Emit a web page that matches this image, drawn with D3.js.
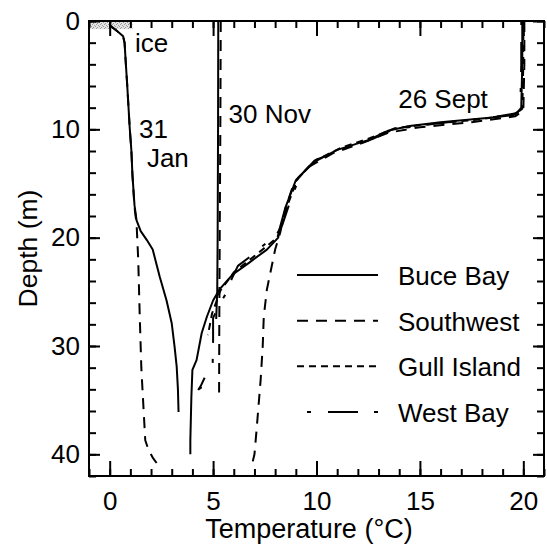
<!DOCTYPE html>
<html>
<head>
<meta charset="utf-8">
<script src="https://cdn.jsdelivr.net/npm/d3@7"></script>
<style>
  body { margin: 0; background: #fff; }
  svg text { font-family: "Liberation Sans", Arial, Helvetica, sans-serif; fill: #000; }
</style>
</head>
<body>
<svg id="chart" width="547" height="548"></svg>
<script>
// ---- data: temperature (°C) vs depth (m) profiles ----
const stations = ["Buce Bay", "Southwest", "Gull Island", "West Bay"];
const xTickValues = [0, 5, 10, 15, 20];
const yTickValues = [0, 10, 20, 30, 40];

// 31 January (under ice)
const janBuceBay = [[0.0,0.4],[0.4,1.0],[0.65,1.4],[0.72,2.0],[0.77,3.6],[0.85,6.0],[0.97,9.9],[1.05,12.0],[1.1,14.2],[1.2,17.0],[1.3,18.4],[1.5,19.4],[1.79,20.2],[2.08,21.1],[2.42,23.6],[2.75,25.8],[3.0,27.9],[3.14,30.1],[3.24,31.9],[3.3,34.0],[3.33,36.1]];
const janSouthwest = [[0.0,0.4],[0.4,1.0],[0.65,1.4],[0.72,2.0],[0.77,3.6],[0.85,6.0],[0.97,9.9],[1.05,12.0],[1.1,14.2],[1.2,17.2],[1.3,18.7],[1.38,22.0],[1.45,27.0],[1.53,32.0],[1.6,34.5],[1.72,38.7],[1.88,39.6],[2.08,40.3],[2.27,40.8]];

// 30 November (mixed)
const novBuceBay = [[5.25,0],[5.24,10],[5.22,20],[5.2,25],[5.15,27.5]];
const novSouthwest = [[5.37,0],[5.35,10],[5.32,20],[5.3,28],[5.29,34.3]];

// 26 September (stratified)
const sepBuceBay = [[19.95,0],[19.95,4],[19.9,8.0],[19.7,8.5],[18.5,8.9],[16.0,9.35],[14.5,9.7],[13.5,10.1],[12.5,11.0],[11.0,11.9],[9.8,13.1],[9.0,14.7],[8.5,17.2],[8.2,19.3],[8.15,20.0],[7.6,21.1],[6.75,22.3],[5.95,23.4],[5.3,24.8],[5.0,25.8],[4.7,27.3],[4.45,28.8],[4.2,31.3],[4.0,32.2],[3.95,34.7],[3.9,38.7],[3.9,40.0]];
const sepSouthwest = [[20.05,0],[20.05,4],[20.0,8.3],[19.6,8.8],[17.5,9.35],[15.0,9.8],[13.5,10.3],[12.3,11.2],[10.8,12.2],[9.6,13.5],[8.9,15.0],[8.5,17.3],[8.25,19.5],[8.0,21.1],[7.6,24.8],[7.45,27.3],[7.4,30.0],[7.3,33.1],[7.1,37.8],[7.0,40.0],[6.9,40.8]];
const sepGullIsland = [[20.0,0],[20.0,4],[19.95,8.1],[19.6,8.6],[17.8,9.1],[15.5,9.5],[13.8,9.9],[12.6,10.8],[11.2,11.7],[9.9,12.9],[9.1,14.5],[8.6,17.0],[8.3,19.0],[8.1,20.0],[7.0,21.7],[6.0,23.2],[5.35,24.9],[4.95,27.0],[4.75,29.0]];
const sepWestBay = [[19.9,0],[19.9,4],[19.85,8.2],[19.5,8.7],[17.0,9.2],[15.2,9.6],[13.7,10.0],[12.7,10.9],[11.3,11.8],[10.0,12.8],[9.2,14.3],[8.7,16.8],[8.35,18.8],[8.1,19.6],[7.5,20.6],[6.9,21.6],[6.2,22.6],[5.9,23.8],[5.67,25.0],[5.3,26.2],[5.0,27.4],[5.0,29.5],[4.98,31.6],[4.7,32.5],[4.4,33.7],[4.3,34.0],[4.45,33.8]];

// ice layer at the surface in January
const iceTemp = [-1, 1.1];
const iceDepth = [0, 0.75];

// ---- annotations ----
const dateLabels = [
  { text: "ice", t: 1.22, d: 2.86 },
  { text: "31", t: 1.42, d: 10.8 },
  { text: "Jan", t: 1.8, d: 13.5 },
  { text: "30 Nov", t: 5.75, d: 9.4 },
  { text: "26 Sept", t: 13.95, d: 8.0 }
];

// ---- layout ----
const svg = d3.select("#chart");
const plot = { left: 89, right: 544, top: 21, bottom: 476 };

const x = d3.scaleLinear().domain([-1, 21]).range([plot.left, plot.right]);
const y = d3.scaleLinear().domain([0, 42]).range([plot.top, plot.bottom]);

const lineStyle = {
  "Buce Bay":    { dash: null },
  "Southwest":   { dash: "11,8" },
  "Gull Island": { dash: "7,5" },
  "West Bay":    { dash: "4,17,30,16" }
};

// stippled pattern for the ice
const defs = svg.append("defs");
const pat = defs.append("pattern").attr("id", "stipple")
  .attr("patternUnits", "userSpaceOnUse").attr("width", 4).attr("height", 4);
pat.append("rect").attr("width", 4).attr("height", 4).attr("fill", "#e4e4e4");
[[0,0],[2,1],[1,3],[3,2]].forEach(([px, py]) =>
  pat.append("rect").attr("x", px).attr("y", py).attr("width", 1).attr("height", 1).attr("fill", "#9a9a9a"));

svg.append("rect")
  .attr("x", x(iceTemp[0])).attr("y", y(iceDepth[0]))
  .attr("width", x(iceTemp[1]) - x(iceTemp[0]))
  .attr("height", y(iceDepth[1]) - y(iceDepth[0]))
  .attr("fill", "url(#stipple)");

// ---- axes with inward ticks ----
function styleAxis(g) {
  g.select(".domain").remove();
  g.selectAll(".tick line").attr("stroke", "#000").attr("stroke-width", 2);
  g.selectAll(".tick text").attr("font-size", 26).attr("fill", "#000");
}
const xMinor = d3.range(-1, 22, 1);
const yMinor = d3.range(0, 43, 2);

svg.append("g").attr("transform", `translate(0,${plot.bottom})`)
  .call(d3.axisBottom(x).tickValues(xMinor).tickSize(-7).tickFormat(""))
  .call(styleAxis);
svg.append("g").attr("transform", `translate(0,${plot.bottom})`)
  .call(d3.axisBottom(x).tickValues(xTickValues).tickSize(-15).tickPadding(16).tickFormat(d3.format("d")))
  .call(styleAxis);
svg.append("g").attr("transform", `translate(0,${plot.top})`)
  .call(d3.axisTop(x).tickValues(xMinor).tickSize(-7).tickFormat(""))
  .call(styleAxis);
svg.append("g").attr("transform", `translate(0,${plot.top})`)
  .call(d3.axisTop(x).tickValues(xTickValues).tickSize(-15).tickFormat(""))
  .call(styleAxis);

svg.append("g").attr("transform", `translate(${plot.left},0)`)
  .call(d3.axisLeft(y).tickValues(yMinor).tickSize(-7).tickFormat(""))
  .call(styleAxis);
svg.append("g").attr("transform", `translate(${plot.left},0)`)
  .call(d3.axisLeft(y).tickValues(yTickValues).tickSize(-11).tickPadding(9).tickFormat(d3.format("d")))
  .call(styleAxis);
svg.append("g").attr("transform", `translate(${plot.right},0)`)
  .call(d3.axisRight(y).tickValues(yMinor).tickSize(-7).tickFormat(""))
  .call(styleAxis);
svg.append("g").attr("transform", `translate(${plot.right},0)`)
  .call(d3.axisRight(y).tickValues(yTickValues).tickSize(-11).tickFormat(""))
  .call(styleAxis);

// frame
svg.append("rect")
  .attr("x", plot.left).attr("y", plot.top)
  .attr("width", plot.right - plot.left).attr("height", plot.bottom - plot.top)
  .attr("fill", "none").attr("stroke", "#000").attr("stroke-width", 2);

// axis titles
svg.append("text")
  .attr("x", 309).attr("y", 538)
  .attr("text-anchor", "middle").attr("font-size", 27)
  .text("Temperature (°C)");
svg.append("text")
  .attr("transform", `translate(37,${(plot.top + plot.bottom) / 2})rotate(-90)`)
  .attr("text-anchor", "middle").attr("font-size", 26.5)
  .text("Depth (m)");

// ---- profiles ----
const line = d3.line().x(d => x(d[0])).y(d => y(d[1]));
const profiles = [
  { station: "Southwest",   points: janSouthwest },
  { station: "Buce Bay",    points: janBuceBay },
  { station: "Southwest",   points: novSouthwest },
  { station: "Buce Bay",    points: novBuceBay },
  { station: "Southwest",   points: sepSouthwest },
  { station: "Gull Island", points: sepGullIsland },
  { station: "West Bay",    points: sepWestBay },
  { station: "Buce Bay",    points: sepBuceBay }
];
svg.append("g").selectAll("path").data(profiles).join("path")
  .attr("d", p => line(p.points))
  .attr("fill", "none")
  .attr("stroke", "#000")
  .attr("stroke-width", 2)
  .attr("stroke-linejoin", "round")
  .attr("stroke-dasharray", p => lineStyle[p.station].dash);

// ---- date / ice labels ----
svg.append("g").selectAll("text").data(dateLabels).join("text")
  .attr("x", d => x(d.t)).attr("y", d => y(d.d))
  .attr("font-size", 26)
  .text(d => d.text);

// ---- legend ----
const legend = svg.append("g");
const legendY = d3.scalePoint().domain(stations).range([275, 412]);
legend.selectAll("line").data(stations).join("line")
  .attr("x1", d => d === "West Bay" ? 307 : 297)
  .attr("x2", 378)
  .attr("y1", d => legendY(d)).attr("y2", d => legendY(d))
  .attr("stroke", "#000").attr("stroke-width", 2)
  .attr("stroke-dasharray", d => lineStyle[d].dash);
legend.selectAll("text").data(stations).join("text")
  .attr("x", 398).attr("y", d => legendY(d)).attr("dy", "0.38em")
  .attr("font-size", 26)
  .text(d => d);
</script>
</body>
</html>
